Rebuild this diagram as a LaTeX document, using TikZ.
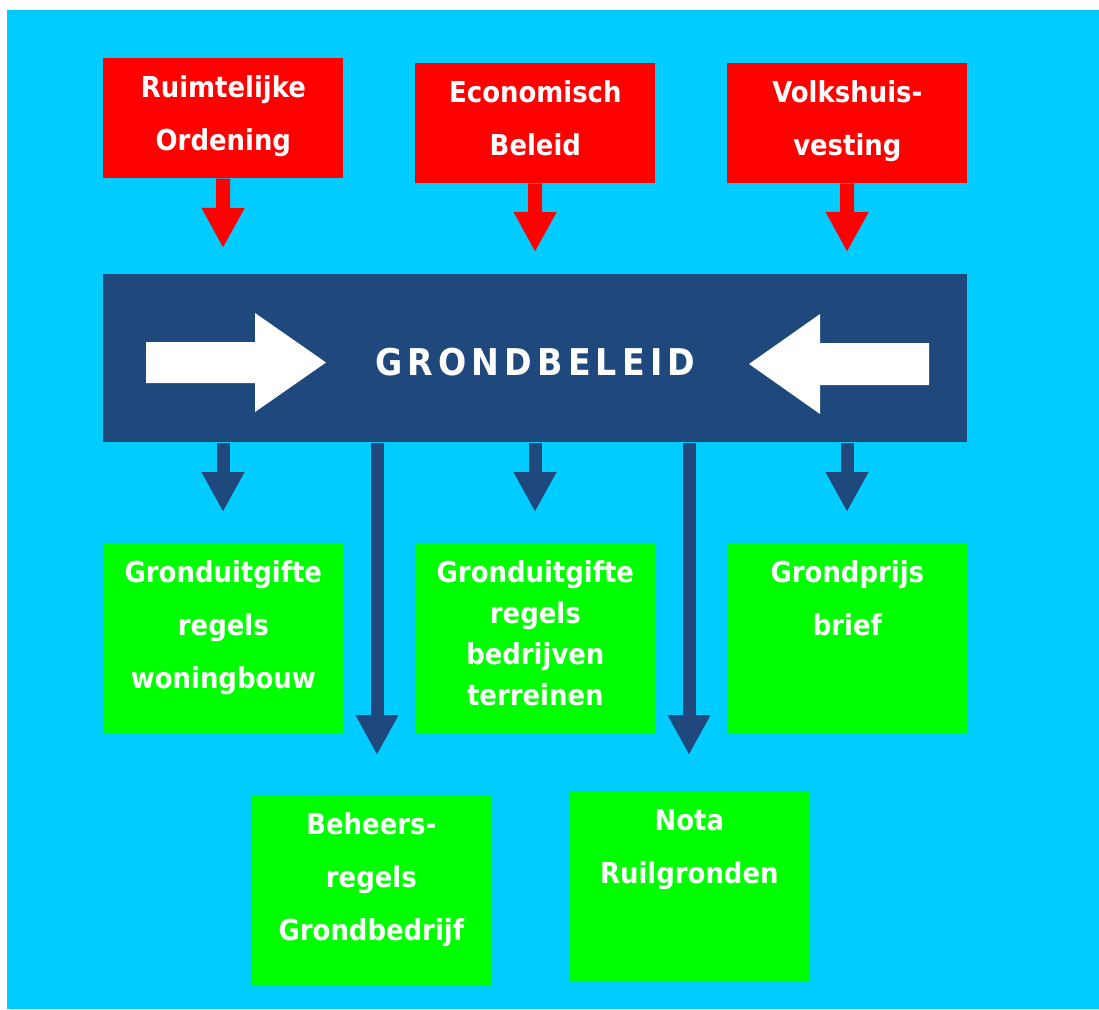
\documentclass[tikz,border=0pt]{standalone}
\usepackage{fontspec}
\setmainfont{DejaVu Sans Condensed}
\usetikzlibrary{arrows.meta,positioning}
\definecolor{skycyan}{HTML}{00CCFF}
\definecolor{boxred}{HTML}{FF0000}
\definecolor{boxgreen}{HTML}{00FF00}
\definecolor{policyblue}{HTML}{1F497D}
\tikzset{
  >=Latex,
  labelbox/.style={
    rectangle, anchor=north west, inner sep=0pt, minimum width=4.8cm,
    text width=4.8cm, text height=0.78cm, align=center, text=white,
    font=\bfseries\fontsize{16.4}{30.2}\selectfont
  },
  redbox/.style={labelbox, fill=boxred, text depth=1.62cm},
  greenbox/.style={labelbox, fill=boxgreen, text depth=3.04cm},
  tightlines/.style={font=\bfseries\fontsize{16.4}{23.3}\selectfont},
  mainbox/.style={
    rectangle, fill=policyblue, anchor=north west, inner sep=0pt,
    minimum width=17.28cm, minimum height=3.36cm, text height=0.70cm,
    text=white, font=\bfseries\fontsize{21}{25}\selectfont\addfontfeature{LetterSpace=14}
  },
  redarrow/.style={draw=boxred, line width=0.28cm, -{Triangle[length=0.8cm,width=0.8cm]}},
  bluearrow/.style={draw=policyblue, line width=0.26cm, -{Triangle[length=0.8cm,width=0.8cm]}}
}

\begin{document}
\begin{tikzpicture}
\useasboundingbox (0,0) rectangle (21.98,-20.18);
\fill[skycyan] (0.14,-0.20) rectangle (21.98,-20.18);

% input fields
\node[redbox] (ro) at (2.06,-1.16) {Ruimtelijke\\Ordening};
\node[redbox] (eb) at (8.30,-1.26) {Economisch\\Beleid};
\node[redbox] (vh) at (14.54,-1.26) {Volkshuis-\\vesting};

% central policy
\node[mainbox] (grond) at (2.06,-5.48) {GRONDBELEID};
\fill[white] (2.92,-6.84) -- (5.10,-6.84) -- (5.10,-6.26) -- (6.52,-7.25)
  -- (5.10,-8.24) -- (5.10,-7.66) -- (2.92,-7.66) -- cycle;
\fill[white] (18.58,-6.86) -- (16.40,-6.86) -- (16.40,-6.28) -- (14.98,-7.28)
  -- (16.40,-8.28) -- (16.40,-7.70) -- (18.58,-7.70) -- cycle;

% instruments
\node[greenbox] (gw) at (2.06,-10.86) {Gronduitgifte\\regels\\woningbouw};
\node[greenbox, tightlines] (gbd) at (8.30,-10.86) {Gronduitgifte\\regels\\bedrijven\\terreinen};
\node[greenbox] (gp) at (14.54,-10.86) {Grondprijs\\brief};
\node[greenbox] (bg) at (5.02,-15.90) {Beheers-\\regels\\Grondbedrijf};
\node[greenbox] (nr) at (11.38,-15.82) {Nota\\Ruilgronden};

% arrow tips
\coordinate (ro tip) at (4.46,-4.96);
\coordinate (eb tip) at (10.70,-5.04);
\coordinate (vh tip) at (16.94,-5.04);
\coordinate (gw tip) at (4.46,-10.24);
\coordinate (gbd tip) at (10.70,-10.24);
\coordinate (gp tip) at (16.94,-10.24);
\coordinate (bg tip) at (7.54,-15.10);
\coordinate (nr tip) at (13.78,-15.10);

\draw[redarrow] (ro) -- (ro tip);
\draw[redarrow] (eb) -- (eb tip);
\draw[redarrow] (vh) -- (vh tip);
\draw[bluearrow] (grond.south -| gw tip) -- (gw tip);
\draw[bluearrow] (grond.south -| bg tip) -- (bg tip);
\draw[bluearrow] (grond.south -| gbd tip) -- (gbd tip);
\draw[bluearrow] (grond.south -| nr tip) -- (nr tip);
\draw[bluearrow] (grond.south -| gp tip) -- (gp tip);
\end{tikzpicture}
\end{document}
